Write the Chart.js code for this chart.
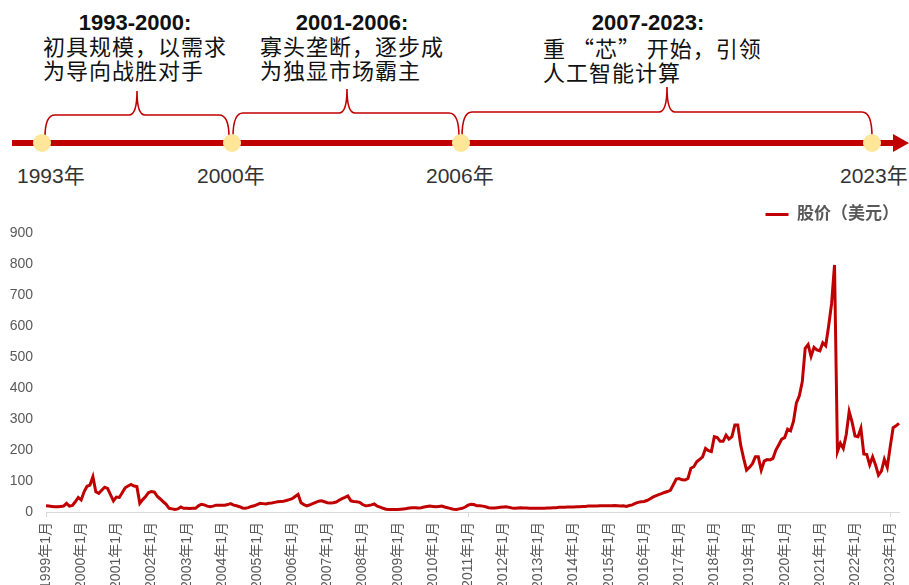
<!DOCTYPE html>
<html>
<head>
<meta charset="utf-8">
<script src="https://cdn.jsdelivr.net/npm/chart.js@4"></script>
<style>
  html, body { margin: 0; padding: 0; background: #fff; }
  body { width: 909px; height: 585px; overflow: hidden; position: relative;
         font-family: "Liberation Sans", "Noto Sans CJK SC", sans-serif; }
  #timeline { position: absolute; left: 0; top: 0; }
  #wrap { position: absolute; left: 0; top: 191px; width: 915px; height: 411px; }
  .head { font-weight: bold; font-size: 22px; fill: #111; }
  .note { font-family: "Noto Sans CJK SC", sans-serif; font-size: 22px; fill: #111; letter-spacing: 1px; }
  .year { font-size: 21px; fill: #333; }
</style>
</head>
<body>
<svg id="timeline" width="909" height="195">
  <!-- braces over each period -->
  <g fill="none" stroke="#C00000" stroke-width="1.6">
    <path d="M45 137 Q45 115 55 115 L129 115 Q137 115 137 91 Q137 115 145 115 L219 115 Q229 115 229 137"/>
    <path d="M233 137 Q233 113 243 113 L339 113 Q347 113 347 89 Q347 113 355 113 L449 113 Q459 113 459 137"/>
    <path d="M462 137 Q462 112 472 112 L659 112 Q667 112 667 87 Q667 112 675 112 L862 112 Q872 112 872 137"/>
  </g>
  <!-- main axis with arrow -->
  <line x1="12" y1="143" x2="895" y2="143" stroke="#C00000" stroke-width="6"/>
  <polygon points="893,134 909,143 893,152" fill="#C00000"/>
  <g fill="#FFE699">
    <circle cx="42" cy="143" r="9"/>
    <circle cx="232" cy="143" r="9"/>
    <circle cx="461" cy="143" r="9"/>
    <circle cx="872" cy="143" r="9"/>
  </g>
  <text class="year" x="17" y="183">1993年</text>
  <text class="year" x="197" y="183">2000年</text>
  <text class="year" x="426" y="183">2006年</text>
  <text class="year" x="840" y="183">2023年</text>

  <text class="head" x="135" y="30" text-anchor="middle">1993-2000:</text>
  <text class="note" x="43" y="55">初具规模，以需求</text>
  <text class="note" x="43" y="79">为导向战胜对手</text>

  <text class="head" x="352" y="30" text-anchor="middle">2001-2006:</text>
  <text class="note" x="260" y="55">寡头垄断，逐步成</text>
  <text class="note" x="260" y="79">为独显市场霸主</text>

  <text class="head" x="648" y="30" text-anchor="middle">2007-2023:</text>
  <text class="note" x="543" y="57">重 “芯” 开始，引领</text>
  <text class="note" x="543" y="81">人工智能计算</text>
</svg>

<div id="wrap"><canvas id="priceChart"></canvas></div>

<script>
// monthly closing price, 1999年1月 - 2023年4月
const price = [
  20, 19, 18, 17, 17, 18, 19, 28, 19, 21, 33, 47,          // 1999
  39, 65, 83, 87, 114, 65, 60, 70, 80, 76, 56, 36,         // 2000
  48, 47, 62, 78, 84, 89, 84, 82, 28, 40, 50, 63,          // 2001
  66, 64, 50, 42, 33, 25, 12, 10, 8, 10, 16, 12,           // 2002
  12, 11, 12, 12, 20, 25, 23, 19, 17, 19, 22, 22,          // 2003
  22, 22, 24, 27, 22, 20, 17, 13, 12, 14, 18, 20,          // 2004
  24, 28, 27, 26, 28, 29, 31, 33, 34, 35, 37, 40,          // 2005
  43, 50, 57, 30, 24, 20, 23, 27, 31, 35, 36, 33,          // 2006
  30, 29, 30, 32, 38, 43, 47, 52, 36, 34, 33, 31,          // 2007
  24, 20, 21, 23, 26, 19, 16, 12, 9, 8, 8, 8,              // 2008
  8, 9, 10, 11, 13, 14, 14, 13, 14, 16, 18, 19,            // 2009
  18, 17, 18, 19, 16, 14, 11, 9, 8, 10, 12, 16,            // 2010
  22, 25, 24, 20, 20, 19, 17, 14, 13, 13, 14, 15,          // 2011
  16, 17, 15, 13, 12, 13, 14, 13, 13, 12, 12, 12,          // 2012
  12, 12, 12, 13, 13, 14, 14, 15, 15, 15, 16, 16,          // 2013
  16, 17, 17, 18, 18, 19, 19, 19, 19, 20, 20, 20,          // 2014
  20, 20, 21, 20, 19, 20, 18, 21, 23, 28, 31, 33,          // 2015
  34, 37, 42, 48, 52, 56, 59, 63, 66, 70, 88, 106,         // 2016
  108, 104, 103, 108, 141, 146, 162, 170, 178, 205, 198, 195, // 2017
  243, 240, 228, 228, 248, 235, 243, 281, 281, 215, 173, 135, // 2018
  144, 156, 178, 178, 135, 164, 169, 168, 173, 200, 217, 235, // 2019
  240, 267, 262, 292, 352, 375, 420, 528, 540, 502, 531, 523, // 2020
  520, 546, 536, 600, 672, 797, 195, 222, 205, 250, 324, 290, // 2021
  245, 243, 270, 187, 185, 152, 178, 152, 119, 132, 170, 144, // 2022
  210, 272, 278, 286                                       // 2023
];

const months = [];
for (let y = 1999; y <= 2023; y++) {
  for (let m = 1; m <= 12; m++) {
    if (months.length < price.length) months.push(y + '年' + m + '月');
  }
}

const red = '#C00000';
const grey = '#595959';
Chart.defaults.font.family = '"Liberation Sans", "Noto Sans CJK SC", sans-serif';

new Chart(document.getElementById('priceChart'), {
  type: 'line',
  data: {
    labels: months,
    datasets: [{
      label: '股价（美元）',
      data: price,
      borderColor: red,
      backgroundColor: red,
      borderWidth: 3,
      pointRadius: 0,
      tension: 0,
      fill: false
    }]
  },
  options: {
    responsive: true,
    maintainAspectRatio: false,
    animation: false,
    layout: { padding: { left: 9, right: 1, top: 0, bottom: 0 } },
    plugins: {
      tooltip: { enabled: false },
      legend: {
        position: 'top',
        align: 'end',
        labels: {
          boxWidth: 23,
          boxHeight: 3,
          padding: 15,
          color: grey,
          font: { size: 17, weight: 'bold' },
          generateLabels(chart) {
            const items = Chart.defaults.plugins.legend.labels.generateLabels(chart);
            items.forEach(it => { it.lineWidth = 0; });
            return items;
          }
        }
      }
    },
    scales: {
      x: {
        grid: {
          display: true,
          drawOnChartArea: false,
          drawTicks: true,
          tickLength: 5,
          color: c => (c.index % 12 === 0 ? '#d9d9d9' : 'rgba(0,0,0,0)')
        },
        border: { color: '#d9d9d9' },
        ticks: {
          autoSkip: false,
          maxRotation: 90,
          minRotation: 90,
          padding: 5,
          color: grey,
          font: { size: 14 },
          callback: (v, i) => (i % 12 === 0 ? months[i] : null)
        },
        afterFit(s) {
          s.height = 90;
          s.paddingLeft = 0;
          s.paddingRight = 16;
        }
      },
      y: {
        min: 0,
        max: 900,
        grid: { display: false, drawTicks: false },
        border: { display: false },
        ticks: { stepSize: 100, padding: 13, color: grey, font: { size: 14 } },
        afterFit(s) { s.width = 37; }
      }
    }
  }
});
</script>
</body>
</html>
